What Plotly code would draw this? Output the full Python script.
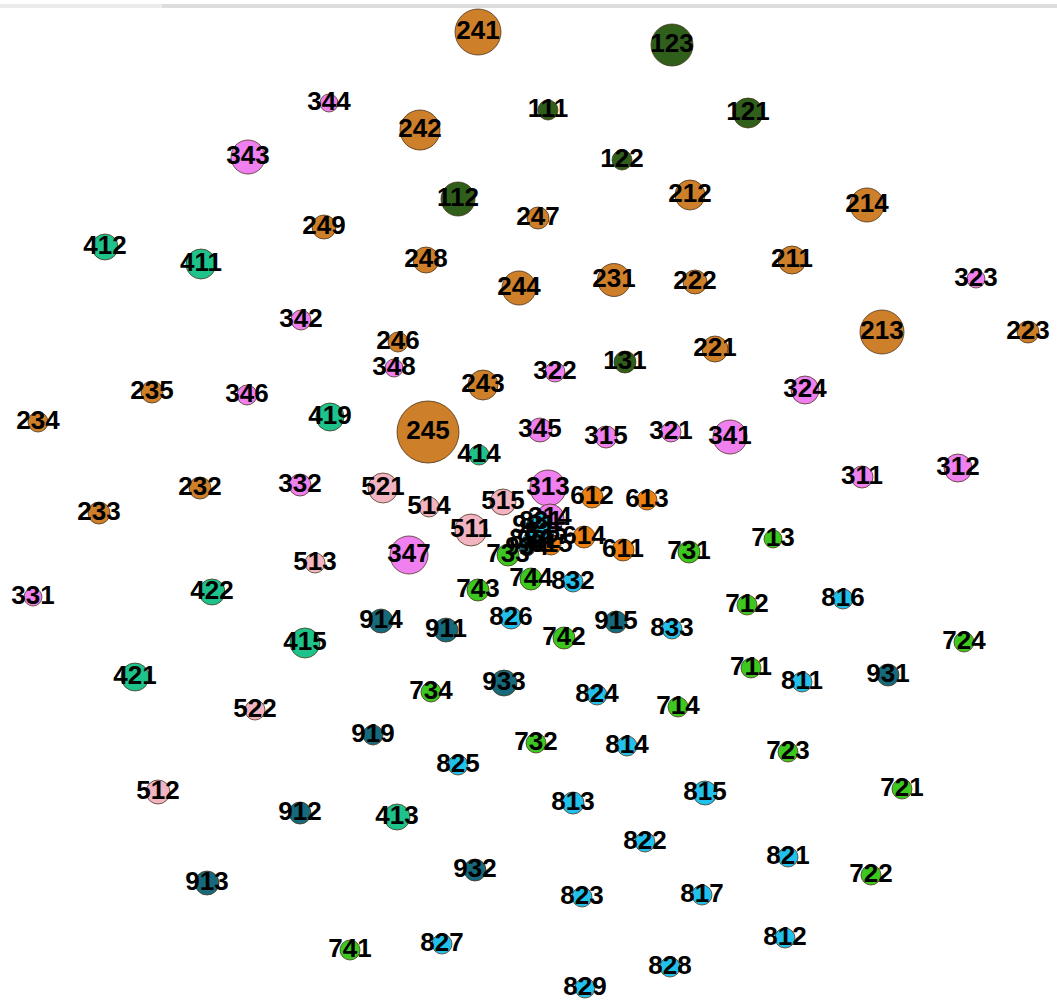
import plotly.graph_objects as go

labels = ["241","123","344","111","121","242","343","122","112","212","247","214","249","412","411","248",
          "211","244","231","222","323","213","223","342","246","221","131","348","322","243","235","346",
          "324","234","419","245","345","315","321","341","414","311","312","232","332","521","514","515",
          "313","612","613","233","511","314","614","615","611","731","713","733",
          "921","831","834","922","835","934",
          "347","513","743","744","832","331","422","816","712","914","911","826","915","742","833","415",
          "724","421","711","811","931","933","734","824","714","522","919","732","814","723","825","512",
          "815","721","813","912","413","822","821","932","722","913","823","817","812","741","827","828","829"]

x_pos = [478,672,329,548,748,420,248,622,458,690,538,867,324,105,201,426,
         792,519,614,695,976,882,1028,301,398,715,625,394,555,483,152,247,
         805,38,330,428,540,606,671,730,479,862,958,200,300,383,429,503,
         548,592,647,99,471,550,584,551,623,689,773,508,
         534,541,531,539,546,527,
         409,315,478,531,573,33,212,843,747,381,446,511,616,564,672,305,
         964,135,751,802,888,504,431,597,678,255,373,536,627,788,458,158,
         705,902,573,300,397,645,788,475,871,207,582,702,785,350,442,670,585]

y_pos = [32,45,103,110,113,130,157,160,199,195,218,205,227,247,264,260,
         260,288,280,282,279,332,332,320,342,349,362,368,372,385,392,395,
         390,422,417,432,430,437,432,437,455,477,468,488,485,488,507,502,
         488,497,500,513,530,518,537,545,550,552,539,555,
         526,522,540,541,533,548,
         555,563,590,579,582,597,592,599,605,621,630,618,622,638,629,643,
         642,677,668,682,675,683,692,695,707,710,735,743,746,752,765,792,
         793,789,803,813,817,842,857,870,875,883,897,895,938,950,944,967,988]

sizes = [46,42,18,20,30,40,34,20,34,30,22,34,24,26,30,26,
         28,34,33,24,18,44,22,20,20,26,22,18,20,30,22,20,
         28,20,28,62,24,22,20,34,20,22,28,22,22,30,20,26,
         36,22,20,22,32,28,22,20,22,22,18,22,
         16,16,16,16,16,16,
         38,20,22,22,20,18,26,20,20,24,24,22,22,22,20,30,
         20,28,20,20,22,26,20,20,20,20,20,20,20,20,20,24,
         24,20,22,22,26,20,20,22,20,24,20,20,20,20,20,20,20]

group_colors = {
    "1": "#2f5f1b",
    "2": "#cd7f2a",
    "3": "#f080f0",
    "4": "#1ec38c",
    "5": "#f2b4c0",
    "6": "#ee8012",
    "7": "#3cc81e",
    "8": "#22c0ec",
    "9": "#176a7c",
}
colors = [group_colors[l[0]] for l in labels]

fig = go.Figure()
fig.add_trace(go.Scatter(
    x=x_pos, y=y_pos, mode="markers",
    marker=dict(size=sizes, color=colors, opacity=1,
                line=dict(width=1, color="rgba(70,45,20,0.75)")),
    hoverinfo="skip", showlegend=False))
fig.add_trace(go.Scatter(
    x=x_pos, y=y_pos, mode="text", text=labels,
    textposition="middle center",
    textfont=dict(family="Liberation Sans, Arial", size=26, color="#000000", weight="bold"),
    hoverinfo="skip", showlegend=False))

fig.update_layout(
    width=1057, height=1002,
    margin=dict(l=0, r=0, t=0, b=0),
    paper_bgcolor="white", plot_bgcolor="white",
    xaxis=dict(range=[0, 1057], visible=False, fixedrange=True),
    yaxis=dict(range=[1002, 0], visible=False, fixedrange=True),
    shapes=[
        dict(type="line", xref="x", yref="y", x0=0, x1=162, y0=6, y1=6,
             line=dict(color="#ebebeb", width=4)),
        dict(type="line", xref="x", yref="y", x0=162, x1=1057, y0=6, y1=6,
             line=dict(color="#dddddd", width=4)),
    ],
)

fig.write_html(
    "out.html",
    config={"displayModeBar": False},
    post_script="document.body.style.margin='0px';document.body.style.overflow='hidden';",
)
